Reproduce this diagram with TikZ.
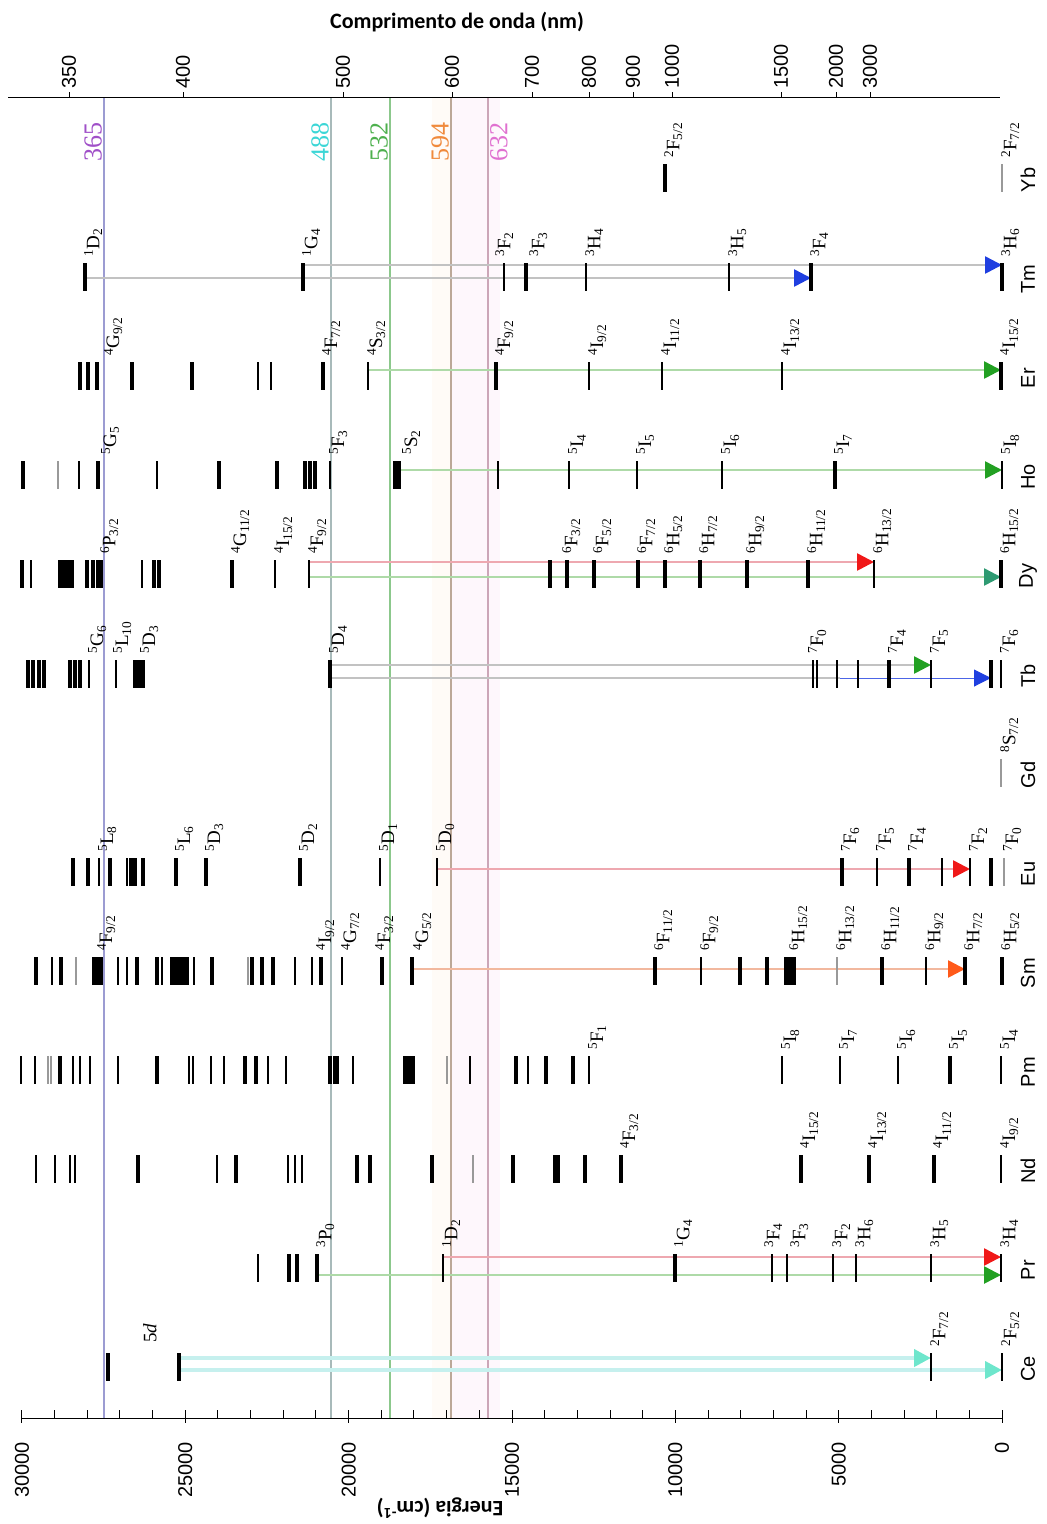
\documentclass[tikz,border=0pt]{standalone}
\usepackage{fontspec}
\setmainfont{Liberation Serif}
\setsansfont{Liberation Sans}
\newfontfamily\headfont{Carlito}
\usepackage{xcolor}
\usepackage{tikz}
\usetikzlibrary{arrows.meta}
% laser lines and their labels
\definecolor{lz365}{HTML}{9C9CD2}
\definecolor{lz488}{HTML}{A8BABA}
\definecolor{lz532}{HTML}{8CC88C}
\definecolor{lz594}{HTML}{BCA898}
\definecolor{lz632}{HTML}{CCA6B8}
\definecolor{t365}{HTML}{A050C8}
\definecolor{t488}{HTML}{3CD6D6}
\definecolor{t532}{HTML}{4DB04D}
\definecolor{t594}{HTML}{F08A3C}
\definecolor{t632}{HTML}{E070D0}
% transitions
\definecolor{trgray}{HTML}{C2C2C2}
\definecolor{trgreen}{HTML}{AEDAA8}
\definecolor{trpink}{HTML}{EEA8B0}
\definecolor{trsalmon}{HTML}{F2B89E}
\definecolor{trcyan}{HTML}{C6F0EE}
\definecolor{arblue}{HTML}{1F3FE0}
\definecolor{argreen}{HTML}{22A022}
\definecolor{arred}{HTML}{F01818}
\definecolor{arteal}{HTML}{2E9A72}
\definecolor{arorange}{HTML}{FF5A1A}
\definecolor{araqua}{HTML}{6EE6CC}
\newcommand{\lsj}[3]{\textsuperscript{#1}#2\textsubscript{#3}}
\newcommand{\lvticks}[3]{\foreach \x in {#3} \draw[#1] (\x,#2-14) -- (\x,#2+14);}

\begin{document}
\begin{tikzpicture}[x=1pt,y=-1pt,
    lvb/.style={line width=3.4pt},
    lvn/.style={line width=1.7pt},
    lvg/.style={line width=1.7pt,black!40},
    lab/.style={rotate=90,anchor=north west,inner sep=0pt,font=\fontsize{19}{20}\selectfont},
    ion/.style={rotate=90,inner sep=0pt,font=\sffamily\fontsize{20}{22}\selectfont},
    axnum/.style={rotate=90,inner sep=0pt,font=\sffamily\fontsize{20}{22}\selectfont},
    laser/.style={line width=1.4pt},
    lzlab/.style={rotate=90,inner sep=1pt,font=\fontsize{26}{28}\selectfont},
    tr/.style={line width=2.6pt},
    tip/.style={-{Triangle[length=17pt,width=17pt,color=#1]}},
    head/.style={font=\headfont\bfseries\fontsize{22}{24}\selectfont}]
\useasboundingbox (0,0) rectangle (1047,1524);

% faint bands behind the red lines
\fill[orange!3] (432,97) rectangle (451,1418);
\fill[magenta!3] (451,97) rectangle (500,1418);

% laser lines
\foreach \x/\c in {104/lz365,331/lz488,390/lz532,451/lz594,488/lz632}
  \draw[laser,\c] (\x,97) -- (\x,1418);
\node[lzlab,anchor=south,t365] (l365) at (103,142) {365};
\node[lzlab,anchor=south,t488] (l488) at (330,142) {488};
\node[lzlab,anchor=south,t532] (l532) at (389,142) {532};
\node[lzlab,anchor=south,t594] (l594) at (450,142) {594};
\node[lzlab,anchor=north,t632] (l632) at (489,142) {632};

% wavelength axis
\node[head] (title) at (457,22) {Comprimento de onda (nm)};
\draw[line width=1pt] (8,97) -- (1000,97);
\foreach \x/\l in {69/350,183/400,343/500,452/600,532/700,589/800,633/900,672/1000,781/1500,836/2000,870/3000}
  {\draw[line width=1pt] (\x,97) -- (\x,92);
   \node[axnum,anchor=west] (w\l) at (\x,89) {\l};}

% energy axis
\draw[line width=1pt] (22,1418) -- (1002,1418);
\foreach \k in {0,...,30} \draw[line width=1pt] (1002-32.667*\k,1418) -- ++(0,-8);
\foreach \k/\l in {0/0,5/5000,10/10000,15/15000,20/20000,25/25000,30/30000}
  {\draw[line width=1pt] (1002-32.667*\k,1418) -- ++(0,5);
   \node[axnum,anchor=east] (e\l) at (1002-32.667*\k,1442) {\l};}
\node[head,rotate=180] (ylab) at (440,1508) {Energia (cm\textsuperscript{-1})};

% Yb
\def\ry{178}
\node[ion] (ionYb) at (1028,\ry+2) {Yb};
\foreach \x/\d/\n/\t in {665/0/F52/{\lsj{2}{F}{5/2}},1002/0/F72/{\lsj{2}{F}{7/2}}}
  {\coordinate (Yb\n) at (\x,\ry); \node[lab] (Yb\n-lab) at (\x-1+\d,\ry-20) {\t};}
\lvticks{lvb}{\ry}{665}
\lvticks{lvg}{\ry}{1002}

% Tm
\def\ry{277}
\node[ion] (ionTm) at (1028,\ry+2) {Tm};
\foreach \x/\d/\n/\t in {85/0/D2/{\lsj{1}{D}{2}},303/0/G4/{\lsj{1}{G}{4}},504/-8/F2/{\lsj{3}{F}{2}},
    526/4/F3/{\lsj{3}{F}{3}},586/0/H4/{\lsj{3}{H}{4}},729/0/H5/{\lsj{3}{H}{5}},
    811/0/F4/{\lsj{3}{F}{4}},1002/0/H6/{\lsj{3}{H}{6}}}
  {\coordinate (Tm\n) at (\x,\ry); \node[lab] (Tm\n-lab) at (\x-1+\d,\ry-20) {\t};}
\draw[tr,trgray,tip=arblue] ([yshift=-1pt]TmD2) -- ([yshift=-1pt]TmF4);
\draw[tr,trgray,tip=arblue] ([yshift=12pt]TmG4) -- ([yshift=12pt]TmH6);
\lvticks{lvb}{\ry}{85,303,526,811,1002}
\lvticks{lvn}{\ry}{504,586,729}

% Er
\def\ry{376}
\node[ion] (ionEr) at (1028,\ry+2) {Er};
\foreach \x/\d/\n/\t in {97/8/G92/{\lsj{4}{G}{9/2}},323/0/F72/{\lsj{4}{F}{7/2}},368/0/S32/{\lsj{4}{S}{3/2}},
    496/0/F92/{\lsj{4}{F}{9/2}},589/0/I92/{\lsj{4}{I}{9/2}},662/0/I112/{\lsj{4}{I}{11/2}},
    782/0/I132/{\lsj{4}{I}{13/2}},1001/0/I152/{\lsj{4}{I}{15/2}}}
  {\coordinate (Er\n) at (\x,\ry); \node[lab] (Er\n-lab) at (\x-1+\d,\ry-20) {\t};}
\draw[tr,trgreen,tip=argreen] ([yshift=6pt]ErS32) -- ([yshift=6pt]ErI152);
\lvticks{lvb}{\ry}{80,88,97,132,192,323,496,1001}
\lvticks{lvn}{\ry}{258,271,368,589,662,782}

% Ho
\def\ry{475}
\node[ion] (ionHo) at (1028,\ry+2) {Ho};
\foreach \x/\d/\n/\t in {98/4/G5/{\lsj{5}{G}{5}},330/0/F3/{\lsj{5}{F}{3}},397/6/S2/{\lsj{5}{S}{2}},
    569/0/I4/{\lsj{5}{I}{4}},637/0/I5/{\lsj{5}{I}{5}},722/0/I6/{\lsj{5}{I}{6}},
    835/0/I7/{\lsj{5}{I}{7}},1002/0/I8/{\lsj{5}{I}{8}}}
  {\coordinate (Ho\n) at (\x,\ry); \node[lab] (Ho\n-lab) at (\x-1+\d,\ry-20) {\t};}
\draw[tr,trgreen,tip=argreen] ([yshift=5pt]HoS2) -- ([yshift=5pt]HoI8);
\lvticks{lvb}{\ry}{23,98,219,277,305,310,315,395,399,835}
\lvticks{lvn}{\ry}{79,157,330,498,569,637,722,1002}
\lvticks{lvg}{\ry}{58}

% Dy
\def\ry{574}
\node[ion] (ionDy) at (1028,\ry+2) {Dy};
\foreach \x/\d/\n/\t in {101/0/P32/{\lsj{6}{P}{3/2}},232/0/G112/{\lsj{4}{G}{11/2}},275/0/I152/{\lsj{4}{I}{15/2}},
    309/0/F92/{\lsj{4}{F}{9/2}},567/-4/sF32/{\lsj{6}{F}{3/2}},594/0/sF52/{\lsj{6}{F}{5/2}},
    638/0/sF72/{\lsj{6}{F}{7/2}},665/0/sH52/{\lsj{6}{H}{5/2}},700/0/sH72/{\lsj{6}{H}{7/2}},
    747/0/sH92/{\lsj{6}{H}{9/2}},808/0/sH112/{\lsj{6}{H}{11/2}},874/0/sH132/{\lsj{6}{H}{13/2}},
    1001/0/sH152/{\lsj{6}{H}{15/2}}}
  {\coordinate (Dy\n) at (\x,\ry); \node[lab] (Dy\n-lab) at (\x-1+\d,\ry-20) {\t};}
\draw[tr,trpink,tip=arred] ([yshift=12pt]DyF92) -- ([yshift=12pt]DysH132);
\draw[tr,trgreen,tip=arteal] ([yshift=-3pt]DyF92) -- ([yshift=-3pt]DysH152);
\lvticks{lvb}{\ry}{22,60,64,68,72,87,93,98,101,154,159,232,550,567,594,638,665,700,747,808,1001}
\lvticks{lvn}{\ry}{31,142,275,309,874}

% Tb
\def\ry{674}
\node[ion] (ionTb) at (1028,\ry+2) {Tb};
\foreach \x/\d/\n/\t in {89/0/G6/{\lsj{5}{G}{6}},116/-2/L10/{\lsj{5}{L}{10}},139/2/D3/{\lsj{5}{D}{3}},
    330/0/D4/{\lsj{5}{D}{4}},813/-4/F0/{\lsj{7}{F}{0}},889/0/F4/{\lsj{7}{F}{4}},
    931/0/F5/{\lsj{7}{F}{5}},1001/0/F6/{\lsj{7}{F}{6}}}
  {\coordinate (Tb\n) at (\x,\ry); \node[lab] (Tb\n-lab) at (\x-1+\d,\ry-20) {\t};}
\coordinate (TbF2) at (840,\ry);
\coordinate (TbF1) at (991,\ry);
\draw[tr,trgray,tip=argreen] ([yshift=9pt]TbD4) -- ([yshift=9pt]TbF5);
\draw[tr,trgray] ([yshift=-4pt]TbD4) -- ([yshift=-4pt]TbF2);
\draw[line width=1pt,arblue!80,tip=arblue] ([yshift=-4pt]TbF2) -- ([yshift=-4pt]TbF1);
\lvticks{lvb}{\ry}{28,33,39,44,70,75,80,135,139,143,330,889,991}
\lvticks{lvn}{\ry}{89,116,813,817,837,858,931,1001}

% Gd
\def\ry{773}
\node[ion] (ionGd) at (1028,\ry+2) {Gd};
\coordinate (GdS72) at (1001,\ry);
\node[lab] (GdS72-lab) at (1000,\ry-20) {\lsj{8}{S}{7/2}};
\lvticks{lvg}{\ry}{1001}

% Eu
\def\ry{872}
\node[ion] (ionEu) at (1028,\ry+2) {Eu};
\foreach \x/\d/\n/\t in {99/0/L8/{\lsj{5}{L}{8}},176/0/L6/{\lsj{5}{L}{6}},206/0/D3/{\lsj{5}{D}{3}},
    300/0/D2/{\lsj{5}{D}{2}},380/0/D1/{\lsj{5}{D}{1}},437/0/D0/{\lsj{5}{D}{0}},
    842/0/F6/{\lsj{7}{F}{6}},877/0/F5/{\lsj{7}{F}{5}},909/0/F4/{\lsj{7}{F}{4}},
    970/0/F2/{\lsj{7}{F}{2}},1004/0/F0/{\lsj{7}{F}{0}}}
  {\coordinate (Eu\n) at (\x,\ry); \node[lab] (Eu\n-lab) at (\x-1+\d,\ry-20) {\t};}
\draw[tr,trpink,tip=arred] ([yshift=3pt]EuD0) -- ([yshift=3pt]EuF2);
\lvticks{lvb}{\ry}{73,88,110,131,135,143,176,206,300,842,909,991}
\lvticks{lvn}{\ry}{99,127,380,437,877,942,970}
\lvticks{lvg}{\ry}{1004}

% Sm
\def\ry{971}
\node[ion] (ionSm) at (1028,\ry+2) {Sm};
\foreach \x/\d/\n/\t in {98/0/F92/{\lsj{4}{F}{9/2}},321/-4/I92/{\lsj{4}{I}{9/2}},342/0/G72/{\lsj{4}{G}{7/2}},
    382/-6/F32/{\lsj{4}{F}{3/2}},412/2/G52/{\lsj{4}{G}{5/2}},655/0/sF112/{\lsj{6}{F}{11/2}},
    701/0/sF92/{\lsj{6}{F}{9/2}},790/0/sH152/{\lsj{6}{H}{15/2}},837/0/sH132/{\lsj{6}{H}{13/2}},
    882/0/sH112/{\lsj{6}{H}{11/2}},926/0/sH92/{\lsj{6}{H}{9/2}},965/0/sH72/{\lsj{6}{H}{7/2}},
    1002/0/sH52/{\lsj{6}{H}{5/2}}}
  {\coordinate (Sm\n) at (\x,\ry); \node[lab] (Sm\n-lab) at (\x-1+\d,\ry-20) {\t};}
\draw[tr,trsalmon,tip=arorange] ([yshift=2pt]SmG52) -- ([yshift=2pt]SmsH72);
\lvticks{lvb}{\ry}{36,61,94,98,101,137,157,172,176,180,184,187,212,252,262,273,321,382,412,655,740,767,786,790,794,882,965,1002}
\lvticks{lvn}{\ry}{52,118,127,162,194,295,312,342,701,926}
\lvticks{lvg}{\ry}{76,248,837}

% Pm
\def\ry{1070}
\node[ion] (ionPm) at (1028,\ry+2) {Pm};
\foreach \x/\d/\n/\t in {589/0/F1/{\lsj{5}{F}{1}},782/0/I8/{\lsj{5}{I}{8}},840/0/I7/{\lsj{5}{I}{7}},
    898/0/I6/{\lsj{5}{I}{6}},950/0/I5/{\lsj{5}{I}{5}},1001/0/I4/{\lsj{5}{I}{4}}}
  {\coordinate (Pm\n) at (\x,\ry); \node[lab] (Pm\n-lab) at (\x-1+\d,\ry-20) {\t};}
\lvticks{lvb}{\ry}{60,157,245,256,330,335,405,409,413,516,546,573,950}
\lvticks{lvn}{\ry}{21,35,73,80,90,118,189,193,211,224,268,286,338,353,470,528,589,782,840,898,1001}
\lvticks{lvg}{\ry}{48,51,447}

% Nd
\def\ry{1169}
\node[ion] (ionNd) at (1028,\ry+2) {Nd};
\foreach \x/\d/\n/\t in {621/0/F32/{\lsj{4}{F}{3/2}},801/0/I152/{\lsj{4}{I}{15/2}},869/0/I132/{\lsj{4}{I}{13/2}},
    934/0/I112/{\lsj{4}{I}{11/2}},1001/0/I92/{\lsj{4}{I}{9/2}}}
  {\coordinate (Nd\n) at (\x,\ry); \node[lab] (Nd\n-lab) at (\x-1+\d,\ry-20) {\t};}
\lvticks{lvb}{\ry}{138,236,357,370,432,513,555,558,585,621,801,869,934}
\lvticks{lvn}{\ry}{36,55,70,75,217,288,295,302,1001}
\lvticks{lvg}{\ry}{473}

% Pr
\def\ry{1268}
\node[ion] (ionPr) at (1028,\ry+2) {Pr};
\foreach \x/\d/\n/\t in {317/0/P0/{\lsj{3}{P}{0}},443/0/D2/{\lsj{1}{D}{2}},675/0/G4/{\lsj{1}{G}{4}},
    772/-7/F4/{\lsj{3}{F}{4}},787/4/F3/{\lsj{3}{F}{3}},833/0/F2/{\lsj{3}{F}{2}},
    856/0/H6/{\lsj{3}{H}{6}},931/0/H5/{\lsj{3}{H}{5}},1001/0/H4/{\lsj{3}{H}{4}}}
  {\coordinate (Pr\n) at (\x,\ry); \node[lab] (Pr\n-lab) at (\x-1+\d,\ry-20) {\t};}
\draw[tr,trpink,tip=arred] ([yshift=11pt]PrD2) -- ([yshift=11pt]PrH4);
\draw[tr,trgreen,tip=argreen] ([yshift=-7pt]PrP0) -- ([yshift=-7pt]PrH4);
\lvticks{lvb}{\ry}{289,297,317,675}
\lvticks{lvn}{\ry}{258,443,772,787,833,856,931,1001}

% Ce
\def\ry{1367}
\node[ion] (ionCe) at (1028,\ry+2) {Ce};
\coordinate (Ce5d) at (179,\ry);
\node[lab] (Ce5d-lab) at (143,\ry-24) {5\textit{d}};
\foreach \x/\d/\n/\t in {931/0/F72/{\lsj{2}{F}{7/2}},1002/0/F52/{\lsj{2}{F}{5/2}}}
  {\coordinate (Ce\n) at (\x,\ry); \node[lab] (Ce\n-lab) at (\x-1+\d,\ry-20) {\t};}
\draw[tr,trcyan,line width=4pt,tip=araqua] ([yshift=9pt]Ce5d) -- ([yshift=9pt]CeF72);
\draw[tr,trcyan,line width=4pt,tip=araqua] ([yshift=-3pt]Ce5d) -- ([yshift=-3pt]CeF52);
\lvticks{lvb}{\ry}{108,179}
\lvticks{lvn}{\ry}{931,1002}
\end{tikzpicture}
\end{document}
